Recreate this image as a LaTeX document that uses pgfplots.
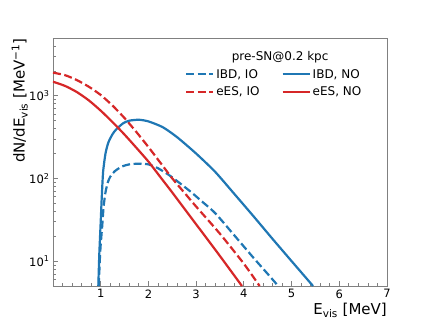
\documentclass[border=0pt]{standalone}
\usepackage{fontspec}
\setmainfont{DejaVu Sans}
\usepackage{pgfplots}
\pgfplotsset{compat=1.18}
\definecolor{tabblue}{HTML}{1F77B4}
\definecolor{tabred}{HTML}{D62728}
\definecolor{spine}{HTML}{808080}

\begin{document}
\begin{tikzpicture}
\begin{axis}[
  scale only axis,
  width=334pt, height=248pt,
  ymode=log,
  xmin=0, xmax=7, ymin=5, ymax=5000,
  axis line style={spine, line width=0.9pt},
  tick pos=left,
  tick align=inside,
  major tick length=5pt, minor tick length=3pt,
  every tick/.style={spine, line width=0.8pt},
  xtick={1,2,3,4,5,6,7},
  minor xtick={0.2,0.4,0.6,0.8,1.2,1.4,1.6,1.8,2.2,2.4,2.6,2.8,3.2,3.4,3.6,3.8,4.2,4.4,4.6,4.8,5.2,5.4,5.6,5.8,6.2,6.4,6.6,6.8},
  ytick={10,100,1000},
  yticklabels={10\textsuperscript{1},10\textsuperscript{2},10\textsuperscript{3}},
  minor ytick={6,7,8,9,20,30,40,50,60,70,80,90,200,300,400,500,600,700,800,900,2000,3000,4000,5000},
  ticklabel style={font=\fontsize{11.5}{13}\selectfont},
  /pgf/number format/assume math mode=true,
  xlabel={E\textsubscript{vis} [MeV]},
  ylabel={dN/dE\textsubscript{vis} [MeV\textsuperscript{−1}]},
  label style={font=\fontsize{15}{17}\selectfont, inner sep=0pt},
  xlabel style={at={(axis description cs:1,0)}, anchor=north east, yshift=-17pt},
  ylabel style={at={(axis description cs:0,1)}, anchor=south east, yshift=25pt},
  legend columns=2,
  transpose legend,
  legend cell align=left,
  legend image code/.code={\draw[#1] (0pt,0pt) -- (27pt,0pt);},
  legend style={draw=none, fill=none, inner sep=0pt,
    at={(axis description cs:0.395,0.8185)}, anchor=west,
    font=\fontsize{12}{14}\selectfont, row sep=3pt,
    nodes={inner sep=2pt},
    /tikz/every even column/.append style={column sep=20pt}},
  every axis plot/.append style={line width=2.2pt, line join=round},
]
\addplot[tabblue, dash pattern=on 8pt off 3.5pt, smooth, tension=0.4] coordinates {
  (0.96,5) (0.98,10) (1.0,16) (1.03,26) (1.06,45) (1.1,68) (1.15,90)
  (1.2,105) (1.3,123) (1.45,140) (1.6,148) (1.8,151) (2.0,148) (2.2,133)
  (2.45,108) (2.7,84) (2.9,68) (3.1,54) (3.4,38) (3.8,20.5) (4.2,11)
  (4.5,7) (4.72,5)
};
\addlegendentry{IBD, IO}
\addplot[tabred, dash pattern=on 8pt off 3.5pt, smooth, tension=0.4] coordinates {
  (0,1905) (0.25,1778) (0.5,1549) (0.75,1288) (1.0,1023) (1.25,759)
  (1.5,537) (1.75,363) (2.0,240) (2.25,155) (2.5,100) (2.75,67.6)
  (3.0,45.7) (3.5,21.4) (4.0,9.3) (4.33,5.0)
};
\addlegendentry{eES, IO}
\addplot[tabblue, smooth, tension=0.4] coordinates {
  (0.95,5) (0.97,12) (1.0,30) (1.02,56) (1.05,120) (1.1,200) (1.16,272)
  (1.25,345) (1.33,395) (1.47,465) (1.6,500) (1.8,513) (2.0,490)
  (2.3,417) (2.6,316) (3.0,200) (3.4,120) (3.8,65) (4.2,35) (4.6,18.6)
  (5.0,10) (5.45,5)
};
\addlegendentry{IBD, NO}
\addplot[tabred, smooth, tension=0.4] coordinates {
  (0,1480) (0.25,1318) (0.5,1109) (0.75,881) (1.0,661) (1.25,479)
  (1.5,339) (1.75,234) (2.0,160) (2.25,104) (2.5,67.6) (2.75,43.4)
  (3.0,27.9) (3.5,11.5) (3.96,5.0)
};
\addlegendentry{eES, NO}
\node[font=\fontsize{12}{14}\selectfont] at (axis description cs:0.680,0.923) {pre-SN@0.2 kpc};
\end{axis}
\path ([shift={(-53pt,-36pt)}]current axis.south west) rectangle ++(430pt,322pt);
\end{tikzpicture}
\end{document}
